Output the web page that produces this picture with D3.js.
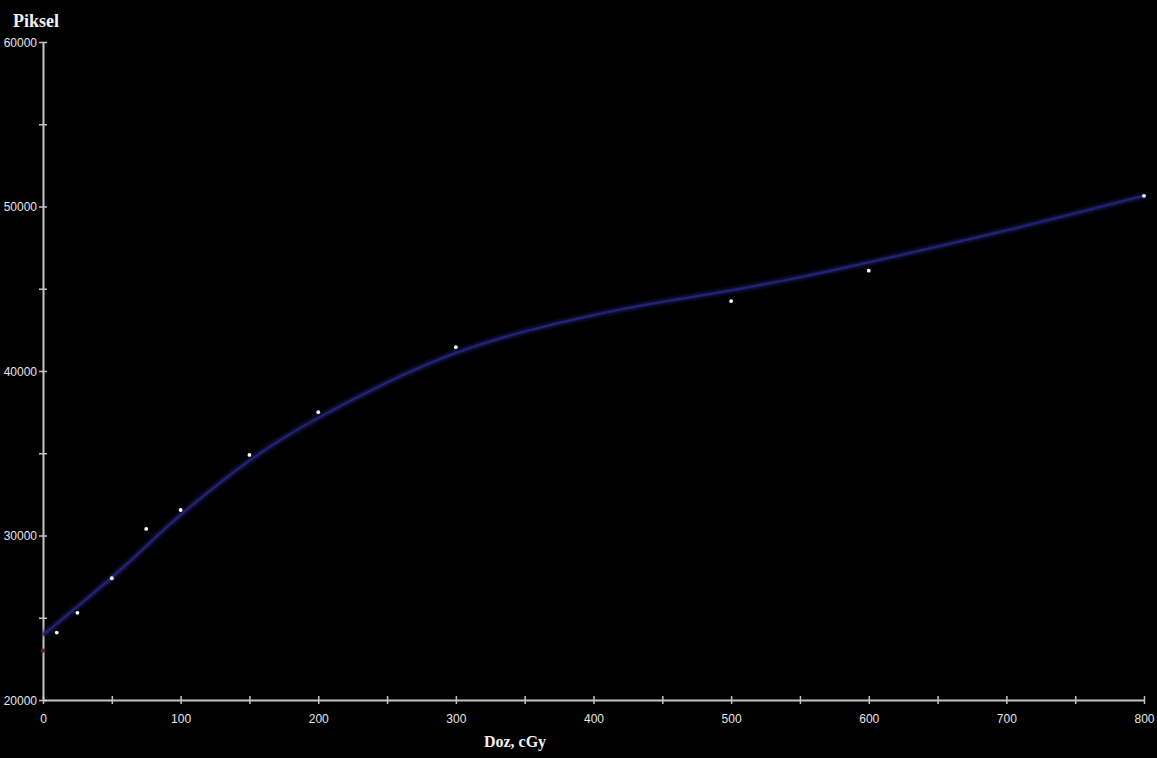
<!DOCTYPE html>
<html>
<head>
<meta charset="utf-8">
<script src="https://cdn.jsdelivr.net/npm/d3@7"></script>
<style>
  html, body { margin: 0; padding: 0; background: #000; }
  svg { display: block; }
  .tick text { font-family: "Liberation Sans", Arial, sans-serif; font-size: 12px; fill: #e6e6e6; }
</style>
</head>
<body>
<svg id="chart" width="1157" height="758"></svg>
<script>
// Measured film response: dose (cGy) vs pixel value
const doses = [10, 25, 50, 75, 100, 150, 200, 300, 500, 600, 800];
const pixels = [24100, 25300, 27400, 30400, 31550, 34900, 37500, 41450, 44250, 46100, 50650];

// Background (zero-dose) reading
const baseDose = [0];
const basePixel = [23000];

// Calibration fit curve, sampled along the dose range
const fitDoses = [0, 25, 50, 75, 100, 150, 200, 250, 300, 350, 400, 450, 500, 550, 600, 700, 800];
const fitPixels = [23950, 25680, 27450, 29350, 31250, 34550, 37150, 39300, 41100, 42400, 43400, 44200, 44900, 45700, 46600, 48550, 50650];

// Axis tick values
const xTicks = d3.range(0, 801, 50);
const yTicks = d3.range(20000, 60001, 5000);

const svg = d3.select("#chart");
const W = 1157, H = 758;
svg.append("rect").attr("width", W).attr("height", H).attr("fill", "#000");

const x = d3.scaleLinear().domain([0, 800]).range([43, 1144]);
const y = d3.scaleLinear().domain([20000, 60000]).range([700, 42]);

const defs = svg.append("defs");
defs.append("filter").attr("id", "glow")
  .attr("x", "-5%").attr("y", "-5%").attr("width", "110%").attr("height", "110%")
  .append("feGaussianBlur").attr("stdDeviation", 1.5);
defs.append("filter").attr("id", "soft")
  .append("feGaussianBlur").attr("stdDeviation", 0.5);

const axisColor = "#c4c4c4";

// X axis
const xAxis = svg.append("g")
  .attr("transform", `translate(0,${y(20000)})`)
  .call(d3.axisBottom(x).tickValues(xTicks).tickSizeOuter(0).tickSizeInner(0)
    .tickFormat(d => d % 100 === 0 ? d : ""));
xAxis.select(".domain").attr("stroke", axisColor).attr("stroke-width", 2);
xAxis.selectAll(".tick line").attr("stroke", axisColor).attr("stroke-width", 1.5)
  .attr("y1", -4).attr("y2", 4);
xAxis.selectAll(".tick text").attr("y", 14).attr("dy", "0.71em");

// Y axis
const yAxis = svg.append("g")
  .attr("transform", `translate(${x(0)},0)`)
  .call(d3.axisLeft(y).tickValues(yTicks).tickSizeOuter(0).tickSizeInner(0)
    .tickFormat(d => d % 10000 === 0 ? d : ""));
yAxis.select(".domain").attr("stroke", axisColor).attr("stroke-width", 2);
yAxis.selectAll(".tick line").attr("stroke", axisColor).attr("stroke-width", 1.5)
  .attr("x1", -4).attr("x2", 4);
yAxis.selectAll(".tick text").attr("x", -6).attr("dy", "0.36em");

// Fit curve with a soft navy glow
const fitData = fitDoses.map((d, i) => [d, fitPixels[i]]);
const line = d3.line().x(d => x(d[0])).y(d => y(d[1])).curve(d3.curveNatural);
svg.append("path").datum(fitData).attr("d", line)
  .attr("fill", "none").attr("stroke", "#14144e").attr("stroke-width", 6)
  .attr("opacity", 0.8).attr("filter", "url(#glow)");
svg.append("path").datum(fitData).attr("d", line)
  .attr("fill", "none").attr("stroke", "#242478").attr("stroke-width", 2.2)
  .attr("filter", "url(#soft)");

// Background point
svg.append("g").selectAll("circle").data(baseDose).join("circle")
  .attr("cx", (d) => x(d)).attr("cy", (d, i) => y(basePixel[i]))
  .attr("r", 2.2).attr("fill", "#6a1e1e");

// Measured points
svg.append("g").selectAll("circle").data(doses).join("circle")
  .attr("cx", d => x(d)).attr("cy", (d, i) => y(pixels[i]))
  .attr("r", 1.9).attr("fill", "#ffffff");

// Axis titles
svg.append("text").attr("x", 13).attr("y", 27)
  .attr("font-family", "'Liberation Serif', 'Times New Roman', serif")
  .attr("font-weight", "bold").attr("font-size", 18).attr("fill", "#f2f2f2")
  .text("Piksel");
svg.append("text").attr("x", 515).attr("y", 747).attr("text-anchor", "middle")
  .attr("font-family", "'Liberation Serif', 'Times New Roman', serif")
  .attr("font-weight", "bold").attr("font-size", 16).attr("fill", "#f2f2f2")
  .text("Doz, cGy");
</script>
</body>
</html>
